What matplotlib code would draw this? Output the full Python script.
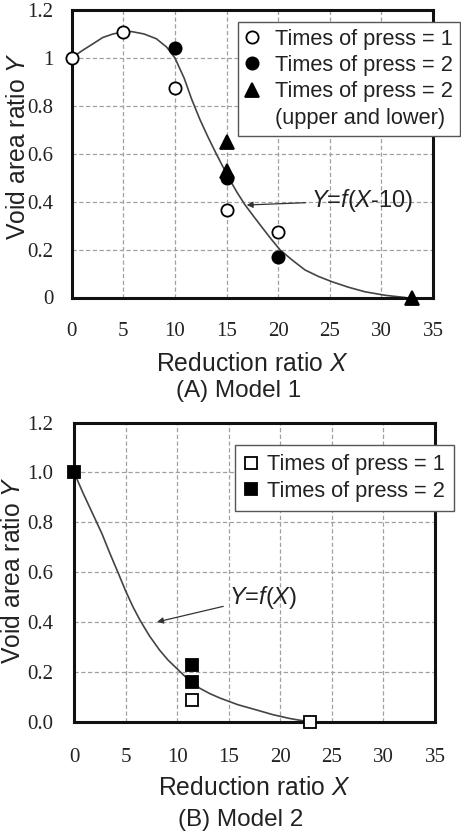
"""Void area ratio vs reduction ratio, two-panel figure (Model 1 / Model 2)."""
import matplotlib
matplotlib.use('Agg')
import matplotlib.pyplot as plt
from matplotlib.lines import Line2D

# ---- panel A (Model 1) -------------------------------------------------
a_open_x = [0, 5, 10, 15, 20]
a_open_y = [1.0, 1.11, 0.875, 0.365, 0.275]
a_fill_x = [10, 15, 20]
a_fill_y = [1.04, 0.50, 0.17]
a_tri_x = [15, 15, 33]
a_tri_y = [0.65, 0.53, 0.0]
# fitted curve Y = f(X-10)
a_curve_x = [0, 1, 2.1, 3, 4, 5, 5.8, 7, 8.2, 9.2, 10, 10.9, 11.6, 12.4,
             13.2, 14, 15.2, 16, 16.8, 17.6, 18.4, 19.3, 20.2, 21.4, 22.6,
             23.9, 25.2, 26.8, 28.4, 30.4, 32.3]
a_curve_y = [1.0, 1.03, 1.06, 1.085, 1.10, 1.108, 1.11, 1.10, 1.08, 1.045,
             1.0, 0.915, 0.83, 0.745, 0.67, 0.60, 0.50, 0.44, 0.386, 0.34,
             0.295, 0.245, 0.198, 0.155, 0.115, 0.088, 0.066, 0.043, 0.024,
             0.009, 0.0]
a_yticks = [0, 0.2, 0.4, 0.6, 0.8, 1.0, 1.2]
a_yticklabels = ['0', '0.2', '0.4', '0.6', '0.8', '1', '1.2']

# ---- panel B (Model 2) -------------------------------------------------
b_open_x = [11.4, 22.9]
b_open_y = [0.087, 0.0]
b_fill_x = [0, 11.4, 11.4]
b_fill_y = [1.0, 0.227, 0.16]
b_curve_x = [0, 0.9, 1.8, 2.7, 3.5, 4.3, 5.0, 5.7, 6.4, 7.3, 8.3, 9.1,
             10.0, 10.9, 12.2, 13.2, 14.2, 15.9, 17.7, 19.3, 20.9, 22.0,
             22.8]
b_curve_y = [1.0, 0.915, 0.835, 0.755, 0.673, 0.595, 0.525, 0.462, 0.407,
             0.345, 0.287, 0.248, 0.212, 0.176, 0.134, 0.112, 0.094, 0.068,
             0.047, 0.028, 0.013, 0.005, 0.0]
b_yticks = [0, 0.2, 0.4, 0.6, 0.8, 1.0, 1.2]
b_yticklabels = ['0.0', '0.2', '0.4', '0.6', '0.8', '1.0', '1.2']

xticks = [0, 5, 10, 15, 20, 25, 30, 35]
xticklabels = ['0', '5', '10', '15', '20', '25', '30', '35']

plt.rcParams.update({'font.family': 'Liberation Sans', 'font.size': 16,
                     'mathtext.fontset': 'custom',
                     'mathtext.rm': 'Liberation Sans',
                     'mathtext.it': 'Liberation Sans:italic',
                     'text.color': '#222', 'axes.labelcolor': '#222'})

W, H = 461, 831
fig = plt.figure(figsize=(W / 100, H / 100), dpi=100)
axA = fig.add_axes([71.7 / W, 1 - 297.5 / H, 361.3 / W, 287.5 / H])
axB = fig.add_axes([74 / W, 1 - 721.7 / H, 361 / W, 299.2 / H])

TXT = '#222'
CURVE = '#444'
LAB = 17.8
LEG = 15.7
mk = dict(ls='none', mec='black', mew=1.3, clip_on=False, zorder=5)


def style_axes(ax, yticks, yticklabels, xpad, ypad):
    ax.set_xlim(0, 35)
    ax.set_ylim(0, 1.2)
    ax.set_xticks(xticks)
    ax.set_xticklabels(xticklabels, family='Liberation Serif', fontsize=15,
                       color=TXT)
    ax.set_yticks(yticks)
    ax.set_yticklabels(yticklabels, family='Liberation Serif', fontsize=15,
                       color=TXT)
    ax.tick_params(axis='x', length=0, pad=xpad)
    ax.tick_params(axis='y', length=0, pad=ypad)
    ax.grid(True, color='#a0a0a0', lw=0.9, ls=(0, (3.4, 2.0)))
    ax.set_axisbelow(True)
    for sp in ax.spines.values():
        sp.set_linewidth(2.2)
        sp.set_color('#111')
        sp.set_zorder(4)


# ---- panel A
style_axes(axA, a_yticks, a_yticklabels, 18, 13)
axA.plot(a_curve_x, a_curve_y, color=CURVE, lw=1.2, zorder=3)
axA.plot(a_tri_x, a_tri_y, marker='^', ms=9.5, mfc='black', **mk)
axA.plot(a_fill_x, a_fill_y, marker='o', ms=8.8, mfc='black', **mk)
axA.plot(a_open_x, a_open_y, marker='o', ms=8.8, mfc='white', **mk)
axA.annotate('$Y$=$f$($X$-10)', xy=(16.95, 0.386), xytext=(23.2, 0.405),
             fontsize=17, ha='left', va='center', color=TXT,
             arrowprops=dict(arrowstyle='-|>', color='#333', lw=0.9,
                             mutation_scale=9, shrinkA=2, shrinkB=0))
axA.set_xlabel('Reduction ratio $X$', fontsize=LAB, va='baseline')
axA.xaxis.set_label_coords(0.5, -(371 - 297.5) / 287.5)
axA.set_ylabel('Void area ratio $Y$', fontsize=LAB, va='baseline')
axA.yaxis.set_label_coords((25 - 71.7) / 361.3, 0.527)
fig.text(239 / W, 1 - 396.5 / H, '(A) Model 1', fontsize=17.5,
         ha='center', va='baseline', color=TXT)

hA = [Line2D([], [], marker='o', ls='none', ms=8.8, mfc='white', mec='black', mew=1.3),
      Line2D([], [], marker='o', ls='none', ms=8.8, mfc='black', mec='black', mew=1.3),
      Line2D([], [], marker='^', ls='none', ms=9.5, mfc='black', mec='black', mew=1.3),
      Line2D([], [], ls='none')]
lA = ['Times of press = 1', 'Times of press = 2', 'Times of press = 2',
      '(upper and lower)']
legA = axA.legend(hA, lA, loc='upper left', bbox_to_anchor=(238 / W, 1 - 21.7 / H),
                  bbox_transform=fig.transFigure, borderaxespad=0,
                  fontsize=LEG, handlelength=0.6, handletextpad=0.75,
                  borderpad=0.33, labelspacing=0.24, fancybox=False,
                  framealpha=1, edgecolor='#555')
legA.get_frame().set_linewidth(1.0)
legA.set_zorder(6)

# ---- panel B
style_axes(axB, b_yticks, b_yticklabels, 19, 15)
axB.plot(b_curve_x, b_curve_y, color=CURVE, lw=1.2, zorder=3)
axB.plot(b_fill_x, b_fill_y, marker='s', ms=9, mfc='black', **mk)
axB.plot(b_open_x, b_open_y, marker='s', ms=9, mfc='white', **mk)
axB.annotate('$Y$=$f$($X$)', xy=(8.05, 0.40), xytext=(15.0, 0.50),
             fontsize=17, ha='left', va='center', color=TXT,
             arrowprops=dict(arrowstyle='-|>', color='#333', lw=0.9,
                             mutation_scale=9, shrinkA=2, shrinkB=0))
axB.set_xlabel('Reduction ratio $X$', fontsize=LAB, va='baseline')
axB.xaxis.set_label_coords(0.5, -(795 - 721.7) / 299.2)
axB.set_ylabel('Void area ratio $Y$', fontsize=LAB, va='baseline')
axB.yaxis.set_label_coords((19.5 - 74) / 361, 0.507)
fig.text(241 / W, 1 - 826 / H, '(B) Model 2', fontsize=17.5,
         ha='center', va='baseline', color=TXT)

hB = [Line2D([], [], marker='s', ls='none', ms=9, mfc='white', mec='black', mew=1.3),
      Line2D([], [], marker='s', ls='none', ms=9, mfc='black', mec='black', mew=1.3)]
lB = ['Times of press = 1', 'Times of press = 2']
legB = axB.legend(hB, lB, loc='upper left', bbox_to_anchor=(235 / W, 1 - 445 / H),
                  bbox_transform=fig.transFigure, borderaxespad=0,
                  fontsize=LEG, handlelength=0.6, handletextpad=0.45,
                  borderpad=0.42, labelspacing=0.26, fancybox=False,
                  framealpha=1, edgecolor='#555')
legB.get_frame().set_linewidth(1.0)
legB.set_zorder(6)

fig.savefig('out.png', dpi=100)
